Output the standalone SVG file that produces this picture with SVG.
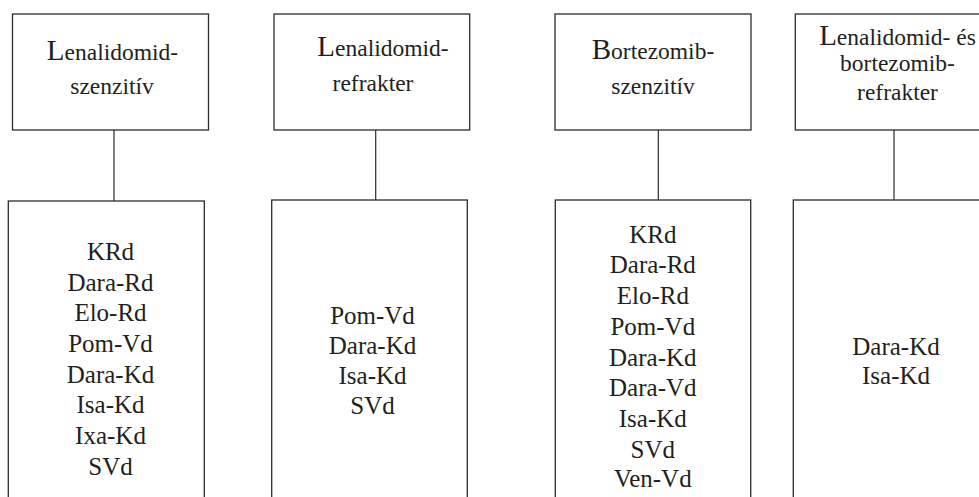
<svg xmlns="http://www.w3.org/2000/svg" width="979" height="497" viewBox="0 0 979 497">
<style>
.box{fill:#fff;stroke:#2b2b2b;stroke-width:1.3}
.con{stroke:#2b2b2b;stroke-width:1.2;fill:none}
text{font-family:'Liberation Serif','Times New Roman','DejaVu Serif',serif;fill:#231f20;text-anchor:middle}
.hd{font-size:23.5px}
.cap{font-size:29px}
.it{font-size:25px}
</style>
<rect width="979" height="497" fill="#fff"/>
<g id="connectors">
<line class="con" x1="114" y1="130" x2="114" y2="201"/>
<line class="con" x1="375.7" y1="130" x2="375.7" y2="200"/>
<line class="con" x1="658.3" y1="130" x2="658.3" y2="200"/>
<line class="con" x1="894" y1="130" x2="894" y2="200"/>
</g>
<g id="top1">
<rect class="box" x="12.5" y="14" width="196" height="116"/>
<text class="hd" x="112.5" y="60" font-family="Liberation Serif, serif"><tspan class="cap">L</tspan>enalidomid-</text>
<text class="hd" x="112" y="94" font-family="Liberation Serif, serif">szenzitív</text>
</g>
<g id="top2">
<rect class="box" x="274" y="14" width="195.7" height="116"/>
<text class="hd" x="383" y="56" font-family="Liberation Serif, serif"><tspan class="cap">L</tspan>enalidomid-</text>
<text class="hd" x="373" y="91" font-family="Liberation Serif, serif">refrakter</text>
</g>
<g id="top3">
<rect class="box" x="555" y="14" width="196" height="116"/>
<text class="hd" x="653" y="59" font-family="Liberation Serif, serif"><tspan class="cap">B</tspan>ortezomib-</text>
<text class="hd" x="653" y="94" font-family="Liberation Serif, serif">szenzitív</text>
</g>
<g id="top4">
<rect class="box" x="795.3" y="14" width="205" height="116"/>
<text class="hd" x="897.5" y="45" font-family="Liberation Serif, serif"><tspan class="cap">L</tspan>enalidomid- és</text>
<text class="hd" x="897.5" y="71" font-family="Liberation Serif, serif">bortezomib-</text>
<text class="hd" x="897.5" y="100" font-family="Liberation Serif, serif">refrakter</text>
</g>
<g id="bottom1" font-family="Liberation Serif, serif">
<rect class="box" x="8.3" y="201" width="196" height="320"/>
<text class="it" x="110.5" y="260">KRd</text>
<text class="it" x="110.5" y="290.5">Dara-Rd</text>
<text class="it" x="110.5" y="321">Elo-Rd</text>
<text class="it" x="110.5" y="352">Pom-Vd</text>
<text class="it" x="110.5" y="382.5">Dara-Kd</text>
<text class="it" x="110.5" y="413">Isa-Kd</text>
<text class="it" x="110.5" y="444">Ixa-Kd</text>
<text class="it" x="110.5" y="475">SVd</text>
</g>
<g id="bottom2">
<rect class="box" x="271.7" y="200" width="195.6" height="320"/>
<text class="it" x="372.5" y="323.5">Pom-Vd</text>
<text class="it" x="372.5" y="353.5">Dara-Kd</text>
<text class="it" x="372.5" y="383.5">Isa-Kd</text>
<text class="it" x="372.5" y="413.5">SVd</text>
</g>
<g id="bottom3">
<rect class="box" x="555.3" y="200" width="195.4" height="320"/>
<text class="it" x="652.8" y="242.5">KRd</text>
<text class="it" x="652.8" y="273">Dara-Rd</text>
<text class="it" x="652.8" y="304">Elo-Rd</text>
<text class="it" x="652.8" y="335">Pom-Vd</text>
<text class="it" x="652.8" y="365.5">Dara-Kd</text>
<text class="it" x="652.8" y="395.5">Dara-Vd</text>
<text class="it" x="652.8" y="426.5">Isa-Kd</text>
<text class="it" x="652.8" y="458">SVd</text>
<text class="it" x="652.8" y="487">Ven-Vd</text>
</g>
<g id="bottom4">
<rect class="box" x="793.3" y="200" width="205" height="320"/>
<text class="it" x="896" y="354.5">Dara-Kd</text>
<text class="it" x="896" y="383.5">Isa-Kd</text>
</g>
</svg>
